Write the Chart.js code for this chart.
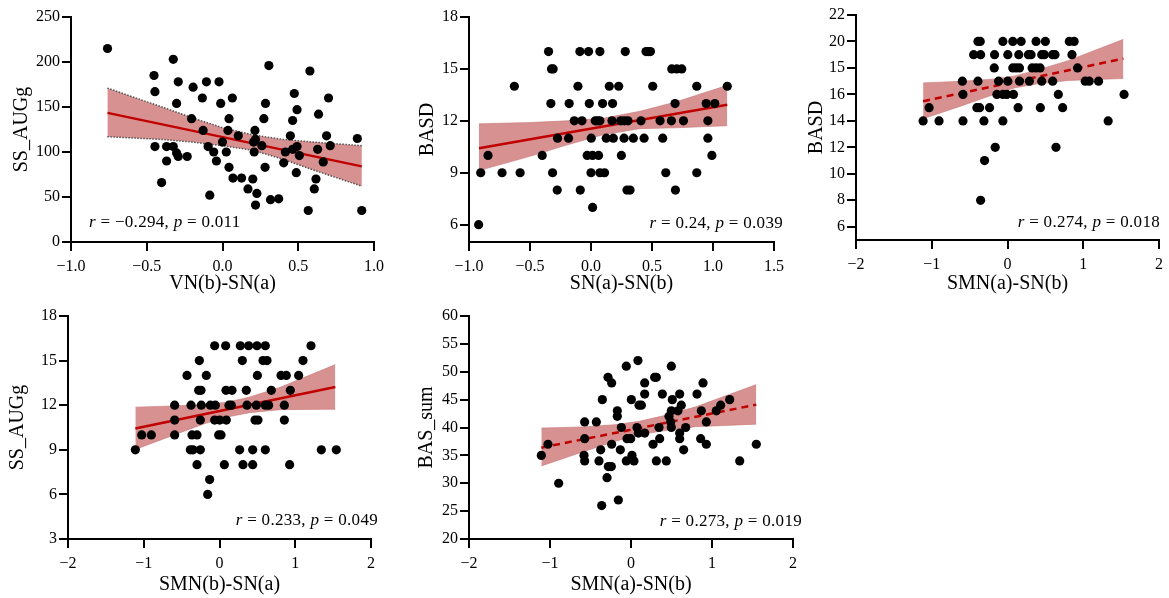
<!DOCTYPE html>
<html><head><meta charset="utf-8">
<script src="https://cdn.jsdelivr.net/npm/chart.js@4.4.0/dist/chart.umd.min.js"></script>
<style>
html,body{margin:0;padding:0;background:#fff;}
body{width:1169px;height:598px;position:relative;overflow:hidden;font-family:"Liberation Serif","Times New Roman",serif;}
canvas{position:absolute;}
.ann{position:absolute;font-size:17px;white-space:nowrap;color:#000;line-height:20px;letter-spacing:0.3px;}
</style></head><body>
<canvas id="c1" width="390" height="300" style="left:0px;top:0px"></canvas>
<canvas id="c2" width="400" height="300" style="left:390px;top:0px"></canvas>
<canvas id="c3" width="379" height="300" style="left:790px;top:0px"></canvas>
<canvas id="c4" width="390" height="298" style="left:0px;top:300px"></canvas>
<canvas id="c5" width="420" height="298" style="left:390px;top:300px"></canvas>
<div class="ann" id="a1" style="left:89px;top:212px"></div>
<div class="ann" id="a2" style="right:386px;top:213px"></div>
<div class="ann" id="a3" style="right:9px;top:212px"></div>
<div class="ann" id="a4" style="right:791px;top:510px"></div>
<div class="ann" id="a5" style="right:367px;top:511px"></div>
<script>
// ---------- Panel 1: VN(b)-SN(a) vs SS_AUGg ----------
const p1X = [-0.759,-0.325,-0.452,-0.446,-0.292,-0.303,-0.194,-0.106,-0.023,-0.133,-0.012,0.065,-0.204,0.043,-0.128,0.036,0.104,0.0,-0.446,-0.369,-0.325,-0.303,-0.292,-0.233,-0.369,-0.095,-0.058,0.025,-0.04,0.043,-0.402,0.069,0.126,-0.084,0.168,0.2,0.227,0.218,0.317,0.371,0.306,0.284,0.273,0.218,0.214,0.209,0.26,0.281,0.205,0.577,0.474,0.492,0.463,0.448,0.463,0.492,0.415,0.404,0.507,0.487,0.634,0.628,0.617,0.606,0.566,0.7,0.687,0.711,0.665,0.89,0.919];
const p1Y = [215,203,185,167,178,154,172,178,178,160,154,160,137,137,124,124,118,111,106,106,106,99,95,95,90,106,100,100,90,83,66,71,71,52,59,70,54,41,47,48,196,154,137,114,124,100,107,83,111,190,165,147,135,118,103,106,100,88,96,77,142,103,70,59,35,160,118,107,89,115,35];
const p1LineX = [-0.759,0.919];
const p1LineY = [143.5,84];
const p1BandX = [-0.76,-0.4,-0.2,0,0.2,0.4,0.6,0.92];
const p1BandUp = [171,150,138,127,119,114,111,107];
const p1BandLo = [117,114,111,107,102,92,80,62];
const p1XTicks = [-1,-0.5,0,0.5,1];
const p1XLabels = ['\u22121.0','\u22120.5','0.0','0.5','1.0'];
const p1YTicks = [0,50,100,150,200,250];
const p1YLabels = ['0','50','100','150','200','250'];

// ---------- Panel 2: SN(a)-SN(b) vs BASD ----------
const p2X = [-0.348,-0.091,-0.02,0.073,0.281,0.451,0.47,0.487,
 -0.324,-0.31,0.662,0.703,0.744,
 -0.628,-0.107,0.15,0.227,0.506,0.867,1.117,
 -0.329,-0.179,-0.014,0.095,0.177,0.689,0.944,1.015,
 -0.137,-0.074,0.035,0.054,0.073,0.172,0.243,0.273,0.303,0.41,0.566,0.659,0.758,0.958,
 -0.274,-0.184,0.002,0.125,0.183,0.271,0.347,0.435,0.588,0.958,
 -0.844,-0.4,-0.031,0.013,0.062,0.249,0.991,
 -0.904,-0.729,-0.581,-0.315,0.0,0.073,0.111,0.613,0.867,
 -0.277,-0.088,0.295,0.32,0.692,
 0.013,
 -0.921];
const p2Y = [16,16,16,16,16,16,16,16,
 15,15,15,15,15,
 14,14,14,14,14,14,14,
 13,13,13,13,13,13,13,13,
 12,12,12,12,12,12,12,12,12,12,12,12,12,12,
 11,11,11,11,11,11,11,11,11,11,
 10,10,10,10,10,10,10,
 9,9,9,9,9,9,9,9,9,
 8,8,8,8,8,
 7,
 6];
const p2LineX = [-0.918,1.117];
const p2LineY = [10.42,12.93];
const p2BandX = [-0.918,-0.5,-0.2,0.1,0.4,0.7,1.117];
const p2BandUp = [11.83,11.9,12.0,12.15,12.55,13.1,14.05];
const p2BandLo = [9.13,9.95,10.6,11.2,11.55,11.6,11.72];
const p2XTicks = [-1,-0.5,0,0.5,1,1.5];
const p2XLabels = ['\u22121.0','\u22120.5','0.0','0.5','1.0','1.5'];
const p2YTicks = [6,9,12,15,18];
const p2YLabels = ['6','9','12','15','18'];

// ---------- Panel 3: SMN(a)-SN(b) vs BASD ----------
const p3X = [-0.39,-0.36,-0.061,0.07,0.18,0.377,0.5,0.816,0.88,
 -0.447,-0.355,-0.171,0.004,0.149,0.276,0.311,0.452,0.487,0.596,0.627,0.851,
 -0.175,0.07,0.114,0.158,0.325,0.377,0.43,0.925,
 -0.596,-0.39,-0.118,0.004,0.158,0.289,0.452,0.596,1.026,1.079,1.202,
 -0.588,-0.14,-0.061,-0.009,0.079,0.671,1.539,
 -1.035,-0.404,-0.368,-0.237,0.14,0.434,0.728,
 -1.114,-0.904,-0.588,-0.311,-0.061,1.329,
 -0.162,0.64,
 -0.303,
 -0.355];
const p3Y = [20,20,20,20,20,20,20,20,20,
 19,19,19,19,19,19,19,19,19,19,19,19,
 18,18,18,18,18,18,18,18,
 17,17,17,17,17,17,17,17,17,17,17,
 16,16,16,16,16,16,16,
 15,15,15,15,15,15,15,
 14,14,14,14,14,14,
 12,12,
 11,
 8];
const p3LineX = [-1.114,1.53];
const p3LineY = [15.48,18.71];
const p3BandX = [-1.114,-0.6,-0.2,0.1,0.4,0.8,1.53];
const p3BandUp = [16.87,17.0,17.15,17.4,17.85,18.55,20.16];
const p3BandLo = [14.16,15.15,15.95,16.5,16.8,17.05,17.2];
const p3XTicks = [-2,-1,0,1,2];
const p3XLabels = ['\u22122','\u22121','0','1','2'];
const p3YTicks = [6,8,10,12,14,16,18,20,22];
const p3YLabels = ['6','8','10','12','14','16','15','20','22'];

// ---------- Panel 4: SMN(b)-SN(a) vs SS_AUGg ----------
const p4X = [-0.064,0.081,0.275,0.385,0.495,0.605,1.208,
 -0.266,0.301,0.574,0.627,1.102,
 -0.429,-0.174,0.5,0.812,0.882,1.045,
 -0.275,-0.244,0.086,0.165,0.354,0.684,0.935,
 -0.592,-0.376,-0.24,-0.121,-0.055,0.125,0.156,0.363,0.486,0.605,0.649,0.856,
 -0.592,-0.253,-0.064,0.002,0.09,0.469,0.508,0.856,
 -1.027,-0.9,-0.592,-0.363,-0.297,-0.011,0.02,
 -1.111,-0.385,-0.35,-0.253,0.266,0.438,0.605,1.344,1.542,
 -0.297,0.064,0.31,0.438,0.926,
 -0.13,
 -0.156];
const p4Y = [16,16,16,16,16,16,16,
 15,15,15,15,15,
 14,14,14,14,14,14,
 13,13,13,13,13,13,13,
 12,12,12,12,12,12,12,12,12,12,12,12,
 11,11,11,11,11,11,11,11,
 10,10,10,10,10,10,10,
 9,9,9,9,9,9,9,9,9,
 8,8,8,8,8,
 7,
 6];
const p4LineX = [-1.111,1.529];
const p4LineY = [10.43,13.23];
const p4BandX = [-1.111,-0.6,-0.2,0.1,0.4,0.8,1.529];
const p4BandUp = [11.87,11.95,12.05,12.2,12.55,13.2,14.73];
const p4BandLo = [9.02,10.0,10.75,11.2,11.5,11.7,11.73];
const p4XTicks = [-2,-1,0,1,2];
const p4XLabels = ['\u22122','\u22121','0','1','2'];
const p4YTicks = [3,6,9,12,15,18];
const p4YLabels = ['3','6','9','12','15','18'];

// ---------- Panel 5: SMN(a)-SN(b) vs BAS_sum ----------
const p5X = [-1.107,-1.025,-0.893,-0.572,-0.572,-0.58,-0.572,-0.428,-0.354,-0.374,-0.395,-0.362,-0.296,-0.284,-0.239,-0.28,-0.243,-0.169,-0.169,-0.239,-0.156,-0.119,-0.132,-0.058,-0.049,-0.058,0.004,-0.004,0.012,0.037,0.086,0.099,0.128,0.074,0.091,0.169,0.169,0.169,0.292,0.313,0.272,0.313,0.346,0.354,0.387,0.436,0.498,0.51,0.469,0.498,0.49,0.498,0.58,0.601,0.621,0.601,0.601,0.65,0.675,0.815,0.889,0.868,0.86,0.93,0.93,1.053,1.107,1.218,1.342,1.547];
const p5Y = [35,37,30,41,38,35,34,41,45,36,34,26,31,49,48,33,33,43,42,37,27,40,36,51,38,34,45,38,35,34,52,44,44,40,39,48,46,39,49,49,37,34,40,38,46,34,51,45,42,43,41,40,43,46,44,39,38,36,40,46,48,43,38,41,37,43,44,45,34,37];
const p5LineX = [-1.107,1.547];
const p5LineY = [36.38,44.1];
const p5BandX = [-1.107,-0.6,-0.2,0.1,0.4,0.8,1.547];
const p5BandUp = [39.9,40.1,40.5,41.1,42.1,43.7,47.7];
const p5BandLo = [33.1,35.6,37.5,38.7,39.4,40.15,40.6];
const p5XTicks = [-2,-1,0,1,2];
const p5XLabels = ['\u22122','\u22121','0','1','2'];
const p5YTicks = [20,25,30,35,40,45,50,55,60];
const p5YLabels = ['20','25','30','35','40','45','50','55','60'];

const rValues = ['\u22120.294','0.24','0.274','0.233','0.273'];
const pValues = ['0.011','0.039','0.018','0.049','0.019'];
const xTitles = ['VN(b)-SN(a)','SN(a)-SN(b)','SMN(a)-SN(b)','SMN(b)-SN(a)','SMN(a)-SN(b)'];
const yTitles = ['SS_AUGg','BASD','BASD','SS_AUGg','BAS_sum'];

const FF = "'Liberation Serif','Times New Roman',serif";
const RED = '#c00000';
const BAND = 'rgb(216,145,145)';

function toPts(xs, ys){ return xs.map((v,i)=>({x:v,y:ys[i]})); }

function panel(id, o){
  new Chart(document.getElementById(id), {
    type:'line',
    data:{datasets:[
      {data:toPts(o.x,o.y), showLine:false, pointRadius:4.6, pointHoverRadius:4.6, pointBackgroundColor:'#000', pointBorderColor:'#000', pointBorderWidth:0, order:0},
      {data:toPts(o.lineX,o.lineY), borderColor:RED, borderWidth:2.5, borderDash:o.dash?[7,5]:[], pointRadius:0, fill:false, order:1},
      {data:toPts(o.bandX,o.bandLo), borderColor:o.edgeColor, borderWidth:o.edgeWidth, borderDash:o.edgeDash, pointRadius:0, fill:false, order:2},
      {data:toPts(o.bandX,o.bandUp), borderColor:o.edgeColor, borderWidth:o.edgeWidth, borderDash:o.edgeDash, pointRadius:0, fill:'-1', backgroundColor:BAND, order:3}
    ]},
    options:{
      responsive:false, animation:false, events:[],
      layout:{autoPadding:false, padding:{left:0, top:o.padTop, right:o.padRight, bottom:0}},
      plugins:{legend:{display:false}, tooltip:{enabled:false}},
      scales:{
        x:{type:'linear', min:o.xMin, max:o.xMax,
          afterBuildTicks:s=>{s.ticks = o.xTicks.map(v=>({value:v}));},
          afterFit:s=>{s.height = o.xH;},
          ticks:{callback:(v,i)=>o.xLabels[i], font:{family:FF,size:16}, color:'#000', padding:6, maxRotation:0, autoSkip:false},
          grid:{display:true, drawOnChartArea:false, drawTicks:true, tickLength:9, color:'#000', lineWidth:2},
          border:{display:true, color:'#000', width:2},
          title:{display:true, text:o.xTitle, font:{family:FF,size:20}, color:'#000', padding:{top:0,bottom:o.xTitlePad}}
        },
        y:{type:'linear', min:o.yMin, max:o.yMax,
          afterBuildTicks:s=>{s.ticks = o.yTicks.map(v=>({value:v}));},
          afterFit:s=>{s.width = o.yW;},
          ticks:{callback:(v,i)=>o.yLabels[i], font:{family:FF,size:16}, color:'#000', padding:2, autoSkip:false},
          grid:{display:true, drawOnChartArea:false, drawTicks:true, tickLength:9, color:'#000', lineWidth:2},
          border:{display:true, color:'#000', width:2},
          title:{display:true, text:o.yTitle, font:{family:FF,size:20}, color:'#000', padding:{top:o.yTitlePad,bottom:0}}
        }
      }
    }
  });
}

const softEdge = 'rgba(200,120,120,0.6)';
panel('c1',{x:p1X,y:p1Y,lineX:p1LineX,lineY:p1LineY,bandX:p1BandX,bandUp:p1BandUp,bandLo:p1BandLo,
  xTicks:p1XTicks,xLabels:p1XLabels,yTicks:p1YTicks,yLabels:p1YLabels,xMin:-1,xMax:1,yMin:0,yMax:250,
  xTitle:xTitles[0],yTitle:yTitles[0],dash:false,edgeColor:'#555',edgeWidth:1.5,edgeDash:[1.5,1.5],
  padTop:17,padRight:15,xH:58,yW:71,xTitlePad:4,yTitlePad:10});
panel('c2',{x:p2X,y:p2Y,lineX:p2LineX,lineY:p2LineY,bandX:p2BandX,bandUp:p2BandUp,bandLo:p2BandLo,
  xTicks:p2XTicks,xLabels:p2XLabels,yTicks:p2YTicks,yLabels:p2YLabels,xMin:-1,xMax:1.5,yMin:5,yMax:18,
  xTitle:xTitles[1],yTitle:yTitles[1],dash:false,edgeColor:softEdge,edgeWidth:1,edgeDash:[],
  padTop:17,padRight:16,xH:58,yW:79,xTitlePad:4,yTitlePad:26});
panel('c3',{x:p3X,y:p3Y,lineX:p3LineX,lineY:p3LineY,bandX:p3BandX,bandUp:p3BandUp,bandLo:p3BandLo,
  xTicks:p3XTicks,xLabels:p3XLabels,yTicks:p3YTicks,yLabels:p3YLabels,xMin:-2,xMax:2,yMin:5,yMax:22,
  xTitle:xTitles[2],yTitle:yTitles[2],dash:true,edgeColor:softEdge,edgeWidth:1,edgeDash:[],
  padTop:15,padRight:9,xH:60,yW:66,xTitlePad:4,yTitlePad:15});
panel('c4',{x:p4X,y:p4Y,lineX:p4LineX,lineY:p4LineY,bandX:p4BandX,bandUp:p4BandUp,bandLo:p4BandLo,
  xTicks:p4XTicks,xLabels:p4XLabels,yTicks:p4YTicks,yLabels:p4YLabels,xMin:-2,xMax:2,yMin:3,yMax:18,
  xTitle:xTitles[3],yTitle:yTitles[3],dash:false,edgeColor:softEdge,edgeWidth:1,edgeDash:[],
  padTop:16,padRight:19,xH:59,yW:68,xTitlePad:1,yTitlePad:6});
panel('c5',{x:p5X,y:p5Y,lineX:p5LineX,lineY:p5LineY,bandX:p5BandX,bandUp:p5BandUp,bandLo:p5BandLo,
  xTicks:p5XTicks,xLabels:p5XLabels,yTicks:p5YTicks,yLabels:p5YLabels,xMin:-2,xMax:2,yMin:20,yMax:60,
  xTitle:xTitles[4],yTitle:yTitles[4],dash:true,edgeColor:softEdge,edgeWidth:1,edgeDash:[],
  padTop:16,padRight:17,xH:59,yW:79,xTitlePad:1,yTitlePad:25});

for (let i=0;i<5;i++){
  document.getElementById('a'+(i+1)).innerHTML = '<i>r</i> = '+rValues[i]+', <i>p</i> = '+pValues[i];
}
</script>
</body></html>
